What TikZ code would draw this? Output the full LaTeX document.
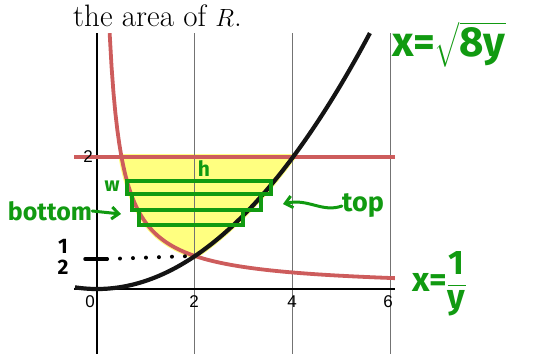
\documentclass[tikz,border=0pt]{standalone}
\usepackage{amsmath}
\usepackage{fontspec}
\usetikzlibrary{arrows.meta}
\newfontfamily\axisfont{Liberation Sans}
\newfontfamily\hand{Fira Sans}
\definecolor{curvered}{HTML}{CD5C5C}
\definecolor{hl}{HTML}{FFFF80}
\definecolor{ink}{HTML}{119A11}
\newcommand{\halfstack}{\begin{tabular}{@{}c@{}}1\\2\end{tabular}}
\begin{document}
\begin{tikzpicture}[x=1pt,y=-1pt,
  gridline/.style={draw=black!55, line width=0.9pt},
  axisline/.style={draw=black, line width=1.2pt},
  redcurve/.style={draw=curvered, line width=3.8pt},
  blackcurve/.style={draw=black!92, line width=4.2pt},
  ticklabel/.style={font=\axisfont\fontsize{17}{17}\selectfont, inner sep=0pt},
  rectbox/.style={draw=ink, line width=3.3pt, inner sep=0pt, outer sep=0pt},
  handtext/.style={text=ink, inner sep=0pt, font=\hand\bfseries\fontsize{#1}{#1}\selectfont},
  garrow/.style={draw=ink, line width=3pt, line cap=round, -{Straight Barb[length=7pt,width=12pt,line width=3pt]}},
  dotline/.style={draw=black, line width=4pt, line cap=round, dash pattern=on 0pt off 13pt}]
\useasboundingbox (0,0) rectangle (535,354);
% highlighted region
\fill[hl] (121.5,157) -- (293,157) -- plot[domain=2:0.5,samples=40] ({97+49*sqrt(8*\x)},{289-66*\x}) -- plot[domain=0.5:2,samples=40] ({97+49/\x},{289-66*\x}) -- cycle;
\draw[hl, line width=6pt, line join=round] (121.5,157) -- (293,157) -- plot[domain=2:0.5,samples=40] ({97+49*sqrt(8*\x)},{289-66*\x}) -- plot[domain=0.5:2,samples=40] ({97+49/\x},{289-66*\x}) -- cycle;
% grid
\draw[gridline] (194,33) -- (194,354);
\draw[gridline] (292,33) -- (292,354);
\draw[gridline] (390,33) -- (390,354);
\draw[axisline] (97,33) -- (97,354);
\draw[axisline] (74,289) -- (395,289);
% curves
\draw[redcurve] (74,157) -- (395,157);
\draw[redcurve] plot[domain=0.258:6.08, samples=150] ({97+49*\x},{289-66/\x});
\draw[blackcurve] plot[domain=-0.45:5.57, samples=120] ({97+49*\x},{289-66*\x*\x/8});
% tick labels
\node[ticklabel] (t0) at (90,302) {0};
\node[ticklabel] (t2) at (194,302) {2};
\node[ticklabel] (t4) at (292,302) {4};
\node[ticklabel] (t6) at (388,302) {6};
\node[ticklabel] (y2) at (88,157) {2};
% title text
\node[anchor=base west, inner sep=0pt, font=\fontsize{31}{33}\selectfont] (title) at (73,26) {the area of $R$.};
% rectangles
\node[rectbox, minimum width=144pt, minimum height=13pt] (r1) at (199,187.5) {};
\node[rectbox, minimum width=129pt, minimum height=16pt] (r2) at (196.5,202) {};
\node[rectbox, minimum width=104pt, minimum height=15pt] (r3) at (191,217.5) {};
% labels w, h
\node[handtext=20] (w) at (112,186) {w};
\node[handtext=21] (h) at (204,169) {h};
% bottom
\node[handtext=25] (bottom) at (50,211) {bottom};
\coordinate (bt) at (121,214);
\draw[garrow] (bottom.east) -- (bt);
% top
\node[handtext=27] (top) at (363,206) {top};
\coordinate (tp) at (283,204);
\draw[garrow] (top.west) .. controls (322,213) and (308,198) .. (tp);
% one half
\coordinate (P) at (192,256);
\node[handtext=21, text=black] (onehalf) at (63,260) {\halfstack};
\coordinate (d1) at (85,259);
\coordinate (d2) at (107,259);
\draw[line width=3.5pt, line cap=round] (d1) -- (d2);
\draw[dotline] (d2) -- (P);
% equations
\node[handtext=42, anchor=base west] (eq1) at (392,56) {x=$\sqrt{\text{8y}}$};
\node[handtext=34, anchor=west] (eq2) at (412,284) {x=$\dfrac{\text{1}}{\text{y}}$};
\end{tikzpicture}
\end{document}
